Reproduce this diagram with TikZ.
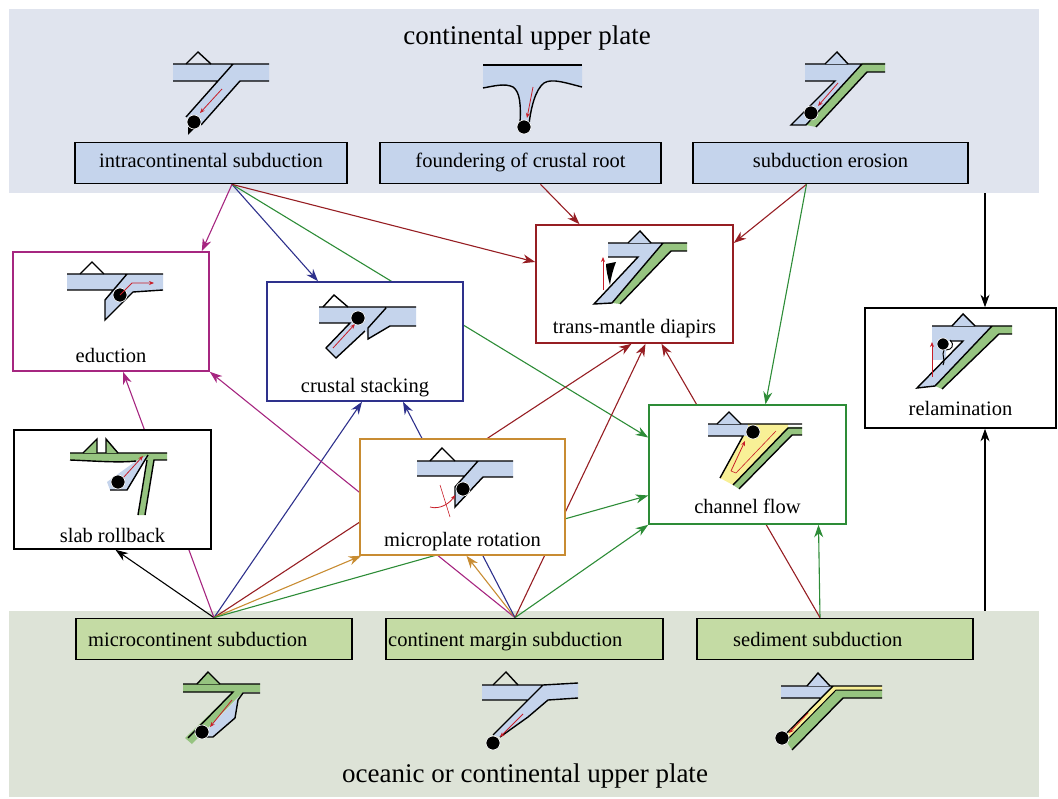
\documentclass[tikz,border=0pt]{standalone}
\usepackage{fontspec}
\setmainfont{Liberation Serif}
\usetikzlibrary{arrows.meta}
\pgfdeclarelayer{back}
\pgfdeclarelayer{wires}
\pgfsetlayers{back,wires,main}
\definecolor{topgrey}{RGB}{224,228,238}
\definecolor{botgrey}{RGB}{221,227,215}
\definecolor{plateblue}{RGB}{197,212,236}
\definecolor{boxgreen}{RGB}{196,219,164}
\definecolor{slabgreen}{RGB}{150,196,128}
\definecolor{channelyellow}{RGB}{248,240,150}
\definecolor{educol}{RGB}{166,38,128}
\definecolor{stackcol}{RGB}{46,49,140}
\definecolor{diapcol}{RGB}{150,30,35}
\definecolor{chancol}{RGB}{45,140,55}
\definecolor{rotcol}{RGB}{200,140,50}
\definecolor{flowred}{RGB}{200,30,40}
\newcommand\boxfont{\fontsize{20.5}{24}\selectfont}
\newcommand\bandfont{\fontsize{27}{32}\selectfont}
\begin{document}
\begin{tikzpicture}
	[x=1pt,y=-1pt,
	 band/.style={inner sep=0pt},
	 title/.style={font=\bandfont,anchor=base,inner sep=0pt},
	 procbox/.style={draw,line width=1.7pt,minimum height=41pt,inner sep=0pt,font=\boxfont,text height=14pt,text depth=4pt},
	 proclabel/.style={font=\boxfont,anchor=base west,inner sep=0pt},
	 mechbox/.style={draw,line width=1.6pt,fill=white,minimum width=196pt,minimum height=119pt,inner sep=0pt},
	 mechlabel/.style={font=\boxfont,anchor=base,inner sep=0pt},
	 link/.style={line width=1.1pt,-{Stealth[length=12.5pt,width=9pt,inset=4pt]}},
	 edge/.style={line width=1.4pt},
	 dot/.style={fill=black,draw=white,line width=0.6pt},
	 flow/.style={flowred,line width=0.8pt,-{Stealth[length=5pt,width=4pt]}}]
\useasboundingbox (0,0) rectangle (1058,799);

% plates
\begin{pgfonlayer}{back}
\node[band,fill=topgrey,minimum width=1030pt,minimum height=184pt] (upper) at (524,101) {};
\node[band,fill=botgrey,minimum width=1030pt,minimum height=186pt] (lower) at (524,704) {};
\end{pgfonlayer}
\node[title] (upperT) at (527,45) {continental upper plate};
\node[title] (lowerT) at (525,782) {oceanic or continental upper plate};

\node[procbox,fill=plateblue,minimum width=272pt] (intra) at (211,163) {intracontinental subduction};
\node[procbox,fill=plateblue,minimum width=281pt] (found) at (520.5,163) {foundering of crustal root};
\node[procbox,fill=plateblue,minimum width=275pt] (erosion) at (830.5,163) {subduction erosion};
\node[procbox,fill=boxgreen,minimum width=276pt] (micro) at (214,639) {};
\node[procbox,fill=boxgreen,minimum width=277pt] (margin) at (524.5,639) {};
\node[procbox,fill=boxgreen,minimum width=276pt] (sediment) at (835,639) {};
\node[proclabel] (microT) at (88,646) {microcontinent subduction};
\node[proclabel] (marginT) at (388,646) {continent margin subduction};
\node[proclabel] (sedimentT) at (733,646) {sediment subduction};

\node[mechbox,draw=educol] (educ) at (111,311.5) {};
\node[mechbox,draw=stackcol] (stack) at (365,341.5) {};
\node[mechbox,draw=diapcol,minimum width=197pt,minimum height=118pt] (diap) at (634.5,284) {};
\node[mechbox,draw=black,minimum width=191pt,minimum height=120pt] (relam) at (960.5,368) {};
\node[mechbox,draw=black,minimum width=197pt] (roll) at (112.5,489.5) {};
\node[mechbox,draw=rotcol,minimum width=205pt,minimum height=116pt] (rot) at (462.5,497) {};
\node[mechbox,draw=chancol,minimum width=197pt] (chan) at (747.5,464.5) {};
\node[mechlabel] (educT) at ([yshift=9pt]educ.south) {eduction};
\node[mechlabel] (stackT) at ([yshift=9pt]stack.south) {crustal stacking};
\node[mechlabel] (diapT) at ([yshift=10pt]diap.south) {trans-mantle diapirs};
\node[mechlabel] (relamT) at ([yshift=13pt]relam.south) {relamination};
\node[mechlabel] (rollT) at ([yshift=7pt]roll.south) {slab rollback};
\node[mechlabel] (rotT) at ([yshift=9pt]rot.south) {microplate rotation};
\node[mechlabel] (chanT) at ([yshift=11pt]chan.south) {channel flow};

% links
\coordinate (intraOut) at ([xshift=21pt]intra.south);
\coordinate (foundOut) at ([xshift=20pt]found.south);
\coordinate (erosionOut) at ([xshift=-24pt]erosion.south);
\coordinate (microOut) at (micro.north);
\coordinate (marginOut) at ([xshift=-9.5pt]margin.north);
\coordinate (sedimentOut) at ([xshift=-15pt]sediment.north);
\coordinate (upperOut) at ([xshift=461pt]upper.south);
\coordinate (lowerOut) at ([xshift=461pt]lower.north);
\begin{pgfonlayer}{wires}
\draw[link,educol] (intraOut) -- ([xshift=-8pt]educ.north east);
\draw[link,stackcol] (intraOut) -- ([xshift=-47pt]stack.north);
\draw[link,chancol] (intraOut) -- ([yshift=27pt]chan.west);
\draw[link,diapcol] (intraOut) -- ([yshift=22pt]diap.west);
\draw[link,diapcol] (foundOut) -- ([xshift=-55pt]diap.north);
\draw[link,diapcol] (erosionOut) -- ([yshift=41pt]diap.east);
\draw[link,chancol] (erosionOut) -- ([xshift=18pt]chan.north);
\draw[link] (upperOut) -- ([xshift=24.5pt]relam.north);
\draw[link] (lowerOut) -- ([xshift=24.5pt]relam.south);
\draw[link] (microOut) -- ([xshift=3pt]roll.south);
\draw[link,educol] (microOut) -- ([xshift=12pt]educ.south);
\draw[link,stackcol] (microOut) -- ([xshift=-3pt]stack.south);
\draw[link,diapcol] (microOut) -- ([xshift=-3pt]diap.south);
\draw[link,rotcol] (microOut) -- ([xshift=2pt]rot.south west);
\draw[link,chancol] (microOut) -- ([yshift=-31pt]chan.west);
\draw[link,educol] (marginOut) -- (educ.south east);
\draw[link,rotcol] (marginOut) -- ([xshift=4pt]rot.south);
\draw[link,stackcol] (marginOut) -- ([xshift=38pt]stack.south);
\draw[link,diapcol] (marginOut) -- ([xshift=11pt]diap.south);
\draw[link,chancol] (marginOut) -- (chan.south west);
\draw[link,chancol] (sedimentOut) -- ([xshift=71pt]chan.south);
\draw[link,diapcol] (sedimentOut) -- ([xshift=27pt]diap.south);
\end{pgfonlayer}

% sketches
% intracontinental subduction
\fill[plateblue] (173,64) -- (269,64) -- (269,81) -- (240,81) -- (202,124) -- (186,117) -- (218,81) -- (173,81) -- cycle;
\draw[edge] (173,64) -- (269,64) (173,81) -- (218,81) (233,64) -- (186,117) (269,81) -- (240,81) -- (201,125);
\draw[edge] (186,64) -- (198,52) -- (211,64);
\fill (188,135) -- (188,127) -- (194,129) -- cycle;
\draw[flow] (222,89) -- (200,113);
\draw[dot] (194,122) circle (7pt);
% foundering
\fill[plateblue] (483,65) -- (582,65) -- (582,87) .. controls (566,83) and (552,78) .. (544,83) .. controls (535,90) and (531,108) .. (529,124) -- (520,124) .. controls (521,104) and (520,92) .. (513,87) .. controls (505,83) and (494,86) .. (483,88) -- cycle;
\draw[edge] (483,65) -- (582,65);
\draw[edge] (582,87) .. controls (566,83) and (552,78) .. (544,83) .. controls (535,90) and (531,108) .. (529,124);
\draw[edge] (520,124) .. controls (521,104) and (520,92) .. (513,87) .. controls (505,83) and (494,86) .. (483,88);
\draw[flow] (533,87) -- (527,118);
\draw[dot] (524,127) circle (7pt);
% subduction erosion
\fill[slabgreen] (862,63) -- (885,63) -- (885,72) -- (867,72) -- (816,127) -- (806,125) -- cycle;
\fill[plateblue] (805,64) -- (862,64) -- (806,125) -- (791,125) -- (835,81) -- (805,81) -- cycle;
\draw[edge] (805,64) -- (885,64) (885,72) -- (867,72) -- (816,127) (862,64) -- (806,125) -- (791,125) -- (835,81) -- (805,81);
\draw[edge,fill=plateblue] (825,64) -- (837,52) -- (848,64);
\draw[flow] (838,83) -- (818,106);
\draw[dot] (811,113) circle (7pt);
% eduction
\fill[plateblue] (67,274) -- (163,274) -- (163,290) -- (133,292) -- (105,320) -- (105,300) -- (113,290) -- (67,290) -- cycle;
\draw[edge] (67,274) -- (163,274) (67,290) -- (113,290) (127,274) -- (105,300) -- (105,320) -- (133,292) -- (163,290);
\draw[edge] (80,274) -- (92,262) -- (104,274);
\draw[dot] (120,295) circle (7pt);
\draw[flow] (120,295) -- (132,283) -- (154,283);
% crustal stacking
\fill[plateblue] (319,307) -- (416,307) -- (416,326) -- (390,326) -- (368,339) -- (366,330) -- (336,358) -- (326,348) -- (350,323) -- (319,323) -- cycle;
\draw[edge] (319,307) -- (416,307) (319,323) -- (350,323) -- (326,348) -- (336,358) -- (365,331) (386,308) -- (368,328) -- (368,339) -- (390,326) -- (416,326);
\draw[edge] (323,307) -- (334,295) -- (348,307);
\draw[flow] (333,348) -- (355,324);
\draw[dot] (358,318) circle (7pt);
% trans-mantle diapirs
\fill[slabgreen] (663,243) -- (687,243) -- (687,251) -- (671,251) -- (620,304) -- (612,303) -- cycle;
\fill[plateblue] (608,243) -- (663,243) -- (612,303) -- (594,304) -- (638,257) -- (608,257) -- cycle;
\draw[edge] (608,243) -- (687,243) (687,251) -- (671,251) -- (620,304) (663,243) -- (612,303) -- (594,304) -- (638,257) -- (608,257);
\draw[edge,fill=plateblue] (628,243) -- (640,231) -- (651,243);
\draw[flow] (603,290) -- (603,257);
\fill (606,264) -- (616,262) .. controls (613,270) and (611,277) .. (610,285) .. controls (608,278) and (606,270) .. (606,264) -- cycle;
% relamination
\fill[slabgreen] (992,326) -- (1012,326) -- (1012,334) -- (999,334) -- (942,389) -- (935,386) -- cycle;
\fill[plateblue] (932,326) -- (992,326) -- (935,386) -- (917,388) -- (963,341) -- (946,341) -- (946,360) -- (932,360) -- cycle;
\draw[edge] (932,326) -- (1012,326) (1012,334) -- (999,334) -- (942,389) (992,326) -- (935,386) -- (917,388) -- (963,341) -- (950,341);
\draw[edge,fill=plateblue] (952,326) -- (963,314) -- (975,326);
\draw[flow] (932,377) -- (932,342);
\draw[line width=1pt] (950,340) .. controls (955,345) and (952,350) .. (946,350) (944,350) .. controls (941,356) and (946,358) .. (943,365);
\draw[dot] (943,344) circle (6pt);
% slab rollback
\fill[slabgreen] (70,453) -- (167,453) -- (167,460) -- (154,460) -- (145,515) -- (138,515) -- (147,460) .. controls (120,463) and (95,461) .. (70,460) -- cycle;
\fill[plateblue] (136,461) -- (148,455) -- (127,490) -- (110,490) -- (107,482) -- cycle;
\draw[edge] (70,453) -- (167,453) (167,460) -- (154,460) -- (145,515) (147,460) -- (138,515);
\draw[edge] (70,460) .. controls (95,461) and (120,463) .. (136,461);
\draw[edge] (148,455) -- (127,490) -- (110,490);
\draw[edge,fill=slabgreen] (83,453) -- (97,439) -- (97,453);
\draw[edge,fill=slabgreen] (106,453) -- (106,439) -- (118,453);
\draw[flow] (123,478) -- (143,456);
\draw[dot] (118,482) circle (7pt);
% microplate rotation
\fill[plateblue] (417,461) -- (513,461) -- (513,477) -- (483,477) -- (455,507) -- (455,487) -- (465,476) -- (417,476) -- cycle;
\draw[edge] (417,461) -- (513,461) (417,476) -- (465,476) (478,461) -- (455,487) -- (455,507) -- (483,477) -- (513,477);
\draw[edge] (430,461) -- (442,448) -- (455,461);
\draw[dot] (463,489) circle (7pt);
\draw[flow] (430,507) .. controls (440,510) and (450,503) .. (455,495);
\draw[flowred,line width=0.6pt] (440,485) -- (450,517);
% channel flow
\fill[plateblue] (708,424) -- (748,424) -- (748,436) -- (708,436) -- cycle;
\fill[channelyellow] (748,424) -- (788,424) -- (788,428) -- (733,485) -- (720,478) -- (743,436) -- (748,436) -- cycle;
\fill[slabgreen] (788,427) -- (802,427) -- (802,435) -- (792,435) -- (739,489) -- (733,485) -- cycle;
\draw[edge] (708,424) -- (802,424) (708,436) -- (743,436) -- (720,478) (802,435) -- (792,435) -- (739,489) (802,428) -- (788,428) -- (733,485);
\draw[edge,fill=plateblue] (717,424) -- (729,412) -- (741,424);
\draw[flowred,line width=0.6pt] (776,431) -- (736,473) -- (731,471);
\draw[flow] (731,471) -- (745,441);
\draw[dot] (753,432) circle (7pt);
% microcontinent subduction
\fill[slabgreen] (183,684) -- (260,684) -- (260,692) -- (243,692) -- (192,744) -- (185,738) -- (233,692) -- (183,692) -- cycle;
\fill[plateblue] (243,693) -- (238,700) -- (235,718) -- (213,737) -- (200,737) -- cycle;
\draw[edge] (183,684) -- (260,684) (183,692) -- (233,692) -- (188,738) (260,693) -- (243,693) -- (238,700) -- (235,718) -- (213,737) -- (205,737);
\draw[edge,fill=slabgreen] (197,684) -- (208,672) -- (220,684);
\draw[flow] (232,700) -- (210,727);
\draw[dot] (202,732) circle (7pt);
% continent margin subduction
\fill[plateblue] (482,685) -- (543,685) -- (578,683) -- (578,698) -- (548,700) -- (528,717) -- (500,737) -- (493,735) -- (528,700) -- (482,700) -- cycle;
\draw[edge] (482,685) -- (543,685) -- (578,683) (482,700) -- (528,700) (543,685) -- (493,735) (578,698) -- (548,700) -- (528,717) -- (500,737);
\draw[edge] (493,685) -- (506,672) -- (518,685);
\draw[flow] (523,714) -- (500,737);
\draw[dot] (493,743) circle (7pt);
% sediment subduction
\fill[plateblue] (781,686) -- (833,686) -- (821,698) -- (781,698) -- cycle;
\fill[channelyellow] (833,686) -- (882,686) -- (882,690) -- (836,690) -- (786,741) -- (783,737) -- cycle;
\fill[slabgreen] (836,690) -- (882,690) -- (882,698) -- (843,698) -- (792,750) -- (786,741) -- cycle;
\draw[edge] (781,686) -- (882,686) (781,698) -- (821,698) (833,686) -- (783,737) (882,698) -- (843,698) -- (792,750);
\draw[line width=1pt] (882,690) -- (836,690) -- (786,741);
\draw[edge,fill=plateblue] (807,686) -- (818,673) -- (830,686);
\draw[flow] (808,713) -- (789,733);
\draw[dot] (782,738) circle (7pt);
\end{tikzpicture}
\end{document}
